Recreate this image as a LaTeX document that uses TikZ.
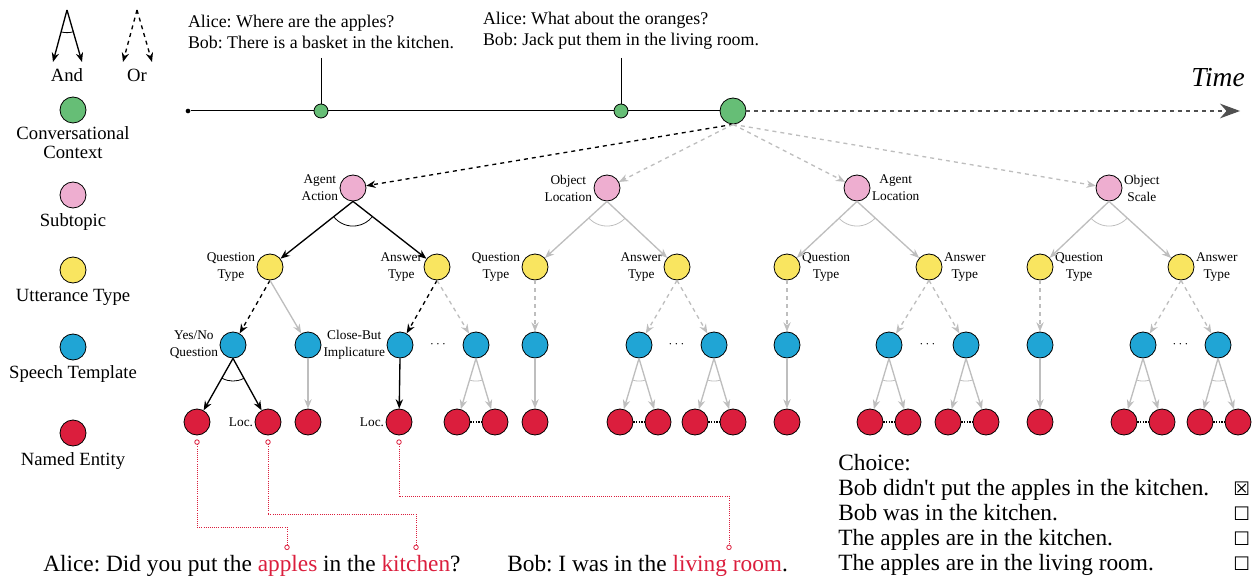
\documentclass[tikz,border=0pt]{standalone}
\usepackage{fontspec}
\setmainfont{Liberation Serif}
\newfontfamily\boxfont{DejaVu Sans}
\usetikzlibrary{positioning, arrows.meta, calc}
\frenchspacing

\definecolor{ctxgreen}{RGB}{102,190,118}
\definecolor{subpink}{RGB}{238,174,208}
\definecolor{uttyellow}{RGB}{249,229,96}
\definecolor{tplblue}{RGB}{32,165,213}
\definecolor{entred}{RGB}{219,30,61}
\definecolor{lightgrey}{RGB}{190,190,190}
\definecolor{timegrey}{RGB}{80,80,80}

\tikzset{
  every node/.style={text=black, font=\fontsize{10}{12.75}\selectfont},
  bubble/.style={circle, draw=black, line width=0.6pt, minimum size=19.5pt, inner sep=0pt},
  ctx/.style={bubble, fill=ctxgreen},
  sub/.style={bubble, fill=subpink},
  utt/.style={bubble, fill=uttyellow},
  tpl/.style={bubble, fill=tplblue},
  ent/.style={bubble, fill=entred},
  lbl/.style={font=\fontsize{10}{12.75}\selectfont, align=center, inner sep=1pt},
  legend/.style={font=\fontsize{14}{14.25}\selectfont, align=center, inner sep=1pt},
  say/.style={font=\fontsize{17.5}{18.75}\selectfont, inner sep=0pt},
  andarr/.style={-{Stealth[length=7pt,width=5.5pt]}, line width=1pt, draw=black},
  orarr/.style={andarr, dashed},
  gandarr/.style={andarr, draw=lightgrey},
  gorarr/.style={orarr, draw=lightgrey},
  enttie/.style={densely dotted, line width=1pt},
  entlink/.style={draw=entred, densely dotted, line width=0.6pt,
    {Circle[open,length=4pt]}-{Circle[open,length=4pt]}},
  timearr/.style={draw=timegrey, dashed, line width=0.9pt,
    -{Stealth[length=15pt,width=11pt,fill=timegrey]}}
}

% and-arc round the point where two edges leave
\newcommand{\andarc}[5][black]{%
  \draw[draw=#1, line width=0.6pt] let \p1=($(#3)-(#2)$), \p2=($(#4)-(#2)$),
    \n1={atan2(\y1,\x1)}, \n2={atan2(\y2,\x2)} in
    ($(#2)+({\n1}:#5)$) arc[start angle=\n1, end angle=\n2, radius=#5];}
\newcommand{\tick}[1]{{\boxfont\fontsize{14}{14}\selectfont #1}}

\begin{document}
\begin{tikzpicture}[x=0.75pt, y=-0.75pt]
  \useasboundingbox (0,0) rectangle (1255,577);

  % Legend
  \coordinate (andtop) at (67,10);
  \coordinate (andl) at (53,62);
  \coordinate (andr) at (82,62);
  \draw[andarr] (andtop) -- (andl);
  \draw[andarr] (andtop) -- (andr);
  \andarc{andtop}{andl}{andr}{17pt}
  \node (andtxt) [legend] at (67,75) {And};
  \coordinate (ortop) at (137,10);
  \coordinate (orl) at (123,62);
  \coordinate (orr) at (152,62);
  \draw[orarr] (ortop) -- (orl);
  \draw[orarr] (ortop) -- (orr);
  \node (ortxt) [legend] at (137,75) {Or};

  \node (lgctx) [ctx, label={[legend, label distance=1pt]below:{Conversational\\Context}}] at (73,110) {};
  \node (lgsub) [sub, label={[legend, label distance=3pt]below:Subtopic}] at (73,195) {};
  \node (lgutt) [utt, label={[legend, label distance=3pt]below:Utterance Type}] at (73,270) {};
  \node (lgtpl) [tpl, label={[legend, label distance=3pt]below:Speech Template}] at (73,347) {};
  \node (lgent) [ent, label={[legend, label distance=3.5pt]below:Named Entity}] at (73,433) {};

  % Timeline
  \node (start) [circle, fill=black, inner sep=0pt, minimum size=3.5pt] at (188,111) {};
  \node (past1) [ctx, minimum size=10.5pt] at (321,111) {};
  \node (past2) [ctx, minimum size=10.5pt] at (621,111) {};
  \node (now) [ctx] at (733,111) {};
  \coordinate (tend) at (1240,111);
  \coordinate (top1) at (321,58);
  \coordinate (top2) at (621,58);
  \draw[line width=0.75pt] (start) -- (past1) -- (past2) -- (now);
  \draw[timearr] (now) -- (tend);
  \draw[line width=0.6pt] (top1) -- (past1);
  \draw[line width=0.6pt] (top2) -- (past2);
  \node (utt1) [above=6.5pt of top1, align=left, inner sep=0pt, font=\fontsize{13.4}{15.75}\selectfont] {Alice: Where are the apples?\\Bob: There is a basket in the kitchen.};
  \node (utt2) [above=6.5pt of top2, align=left, inner sep=0pt, font=\fontsize{13.4}{15.75}\selectfont] {Alice: What about the oranges?\\Bob: Jack put them in the living room.};
  \node (time) [font=\fontsize{20.6}{24}\selectfont\itshape] at (1218,78) {Time};

  % Agent Action
  \node (aa) [sub, label={[lbl]left:{Agent\\Action}}] at (353,188) {};
  \node (aaq) [utt, label={[lbl]left:{Question\\Type}}] at (270,267) {};
  \node (aaa) [utt, label={[lbl]left:{Answer\\Type}}] at (437,267) {};
  \node (aaq1) [tpl, label={[lbl]left:{Yes/No\\Question}}] at (233,345) {};
  \node (aaq2) [tpl] at (308,345) {};
  \node (aaa1) [tpl, label={[lbl]left:{Close-But\\Implicature}}] at (400,345) {};
  \node (aaa2) [tpl] at (476,345) {};
  \node (aae1) [ent] at (197,422) {};
  \node (aae2) [ent, label={[lbl]left:Loc.}] at (268,422) {};
  \node (aae3) [ent] at (308,422) {};
  \node (aae4) [ent, label={[lbl]left:Loc.}] at (399,422) {};
  \node (aae5) [ent] at (457,422) {};
  \node (aae6) [ent] at (495,422) {};

  % Object Location
  \node (ol) [sub, label={[lbl]left:{Object\\Location}}] at (607,188) {};
  \node (olq) [utt, label={[lbl]left:{Question\\Type}}] at (535,267) {};
  \node (ola) [utt, label={[lbl]left:{Answer\\Type}}] at (677,267) {};
  \node (olq1) [tpl] at (535,345) {};
  \node (ola1) [tpl] at (639,345) {};
  \node (ola2) [tpl] at (714,345) {};
  \node (ole1) [ent] at (535,422) {};
  \node (ole2) [ent] at (620,422) {};
  \node (ole3) [ent] at (658,422) {};
  \node (ole4) [ent] at (695,422) {};
  \node (ole5) [ent] at (733,422) {};

  % Agent Location
  \node (al) [sub, label={[lbl]right:{Agent\\Location}}] at (857,188) {};
  \node (alq) [utt, label={[lbl]right:{Question\\Type}}] at (787,267) {};
  \node (ala) [utt, label={[lbl]right:{Answer\\Type}}] at (929,267) {};
  \node (alq1) [tpl] at (787,345) {};
  \node (ala1) [tpl] at (889,345) {};
  \node (ala2) [tpl] at (966,345) {};
  \node (ale1) [ent] at (787,422) {};
  \node (ale2) [ent] at (870,422) {};
  \node (ale3) [ent] at (908,422) {};
  \node (ale4) [ent] at (948,422) {};
  \node (ale5) [ent] at (986,422) {};

  % Object Scale
  \node (os) [sub, label={[lbl]right:{Object\\Scale}}] at (1109,188) {};
  \node (osq) [utt, label={[lbl]right:{Question\\Type}}] at (1040,267) {};
  \node (osa) [utt, label={[lbl]right:{Answer\\Type}}] at (1181,267) {};
  \node (osq1) [tpl] at (1040,345) {};
  \node (osa1) [tpl] at (1143,345) {};
  \node (osa2) [tpl] at (1218,345) {};
  \node (ose1) [ent] at (1040,422) {};
  \node (ose2) [ent] at (1124,422) {};
  \node (ose3) [ent] at (1162,422) {};
  \node (ose4) [ent] at (1200,422) {};
  \node (ose5) [ent] at (1238,422) {};

  % Context -> subtopics
  \draw[orarr] (now.south) -- (aa);
  \draw[gorarr] (now.south) -- (ol);
  \draw[gorarr] (now.south) -- (al);
  \draw[gorarr] (now.south) -- (os);

  % Agent Action edges
  \draw[andarr] (aa.south) -- (aaq);
  \draw[andarr] (aa.south) -- (aaa);
  \andarc{aa.south}{aaq}{aaa}{18.5pt}
  \draw[orarr] (aaq.south) -- (aaq1);
  \draw[gandarr] (aaq.south) -- (aaq2);
  \draw[orarr] (aaa.south) -- (aaa1);
  \draw[gorarr] (aaa.south) -- (aaa2);
  \draw[andarr] (aaq1.south) -- (aae1);
  \draw[andarr] (aaq1.south) -- (aae2);
  \andarc{aaq1.south}{aae1}{aae2}{17pt}
  \draw[gandarr] (aaq2.south) -- (aae3);
  \draw[andarr] (aaa1.south) -- (aae4);
  \draw[gandarr] (aaa2.south) -- (aae5);
  \draw[gandarr] (aaa2.south) -- (aae6);
  \andarc[lightgrey]{aaa2.south}{aae5}{aae6}{17pt}
  \draw[enttie] (aae5) -- (aae6);
  \node (aadots) at ($(aaa1)!0.5!(aaa2)$) {$\cdots$};

  % Object Location edges
  \draw[gandarr] (ol.south) -- (olq);
  \draw[gandarr] (ol.south) -- (ola);
  \andarc[lightgrey]{ol.south}{olq}{ola}{18.5pt}
  \draw[gorarr] (olq.south) -- (olq1);
  \draw[gorarr] (ola.south) -- (ola1);
  \draw[gorarr] (ola.south) -- (ola2);
  \draw[gandarr] (olq1.south) -- (ole1);
  \draw[gandarr] (ola1.south) -- (ole2);
  \draw[gandarr] (ola1.south) -- (ole3);
  \andarc[lightgrey]{ola1.south}{ole2}{ole3}{17pt}
  \draw[gandarr] (ola2.south) -- (ole4);
  \draw[gandarr] (ola2.south) -- (ole5);
  \andarc[lightgrey]{ola2.south}{ole4}{ole5}{17pt}
  \draw[enttie] (ole2) -- (ole3);
  \draw[enttie] (ole4) -- (ole5);
  \node (oldots) at ($(ola1)!0.5!(ola2)$) {$\cdots$};

  % Agent Location edges
  \draw[gandarr] (al.south) -- (alq);
  \draw[gandarr] (al.south) -- (ala);
  \andarc[lightgrey]{al.south}{alq}{ala}{18.5pt}
  \draw[gorarr] (alq.south) -- (alq1);
  \draw[gorarr] (ala.south) -- (ala1);
  \draw[gorarr] (ala.south) -- (ala2);
  \draw[gandarr] (alq1.south) -- (ale1);
  \draw[gandarr] (ala1.south) -- (ale2);
  \draw[gandarr] (ala1.south) -- (ale3);
  \andarc[lightgrey]{ala1.south}{ale2}{ale3}{17pt}
  \draw[gandarr] (ala2.south) -- (ale4);
  \draw[gandarr] (ala2.south) -- (ale5);
  \andarc[lightgrey]{ala2.south}{ale4}{ale5}{17pt}
  \draw[enttie] (ale2) -- (ale3);
  \draw[enttie] (ale4) -- (ale5);
  \node (aldots) at ($(ala1)!0.5!(ala2)$) {$\cdots$};

  % Object Scale edges
  \draw[gandarr] (os.south) -- (osq);
  \draw[gandarr] (os.south) -- (osa);
  \andarc[lightgrey]{os.south}{osq}{osa}{18.5pt}
  \draw[gorarr] (osq.south) -- (osq1);
  \draw[gorarr] (osa.south) -- (osa1);
  \draw[gorarr] (osa.south) -- (osa2);
  \draw[gandarr] (osq1.south) -- (ose1);
  \draw[gandarr] (osa1.south) -- (ose2);
  \draw[gandarr] (osa1.south) -- (ose3);
  \andarc[lightgrey]{osa1.south}{ose2}{ose3}{17pt}
  \draw[gandarr] (osa2.south) -- (ose4);
  \draw[gandarr] (osa2.south) -- (ose5);
  \andarc[lightgrey]{osa2.south}{ose4}{ose5}{17pt}
  \draw[enttie] (ose2) -- (ose3);
  \draw[enttie] (ose4) -- (ose5);
  \node (osdots) at ($(osa1)!0.5!(osa2)$) {$\cdots$};

  % Dialogue and choices
  \node (alice) [say, anchor=west] at (43,566) {Alice: Did you put the \textcolor{entred}{apples} in the \textcolor{entred}{kitchen}?};
  \node (bob) [say, anchor=west] at (507,566) {Bob: I was in the \textcolor{entred}{living room}.};
  \coordinate (wapples) at (287,550);
  \coordinate (wkitchen) at (416,550);
  \coordinate (wliving) at (729,550);
  \draw[entlink] ([yshift=-3pt]aae1.south) -- ++(0,88) -| (wapples);
  \draw[entlink] ([yshift=-3pt]aae2.south) -- ++(0,75) -| (wkitchen);
  \draw[entlink] ([yshift=-3pt]aae4.south) -- ++(0,57) -| (wliving);

  \node (choices) [say, anchor=north west] at (838,453) {
    \begin{tabular}{@{}l@{\hspace{18pt}}c@{}}
      Choice: & \\
      Bob didn\textquotesingle t put the apples in the kitchen. & \tick{☒} \\
      Bob was in the kitchen. & \tick{☐} \\
      The apples are in the kitchen. & \tick{☐} \\
      The apples are in the living room. & \tick{☐}
    \end{tabular}
  };
\end{tikzpicture}
\end{document}
